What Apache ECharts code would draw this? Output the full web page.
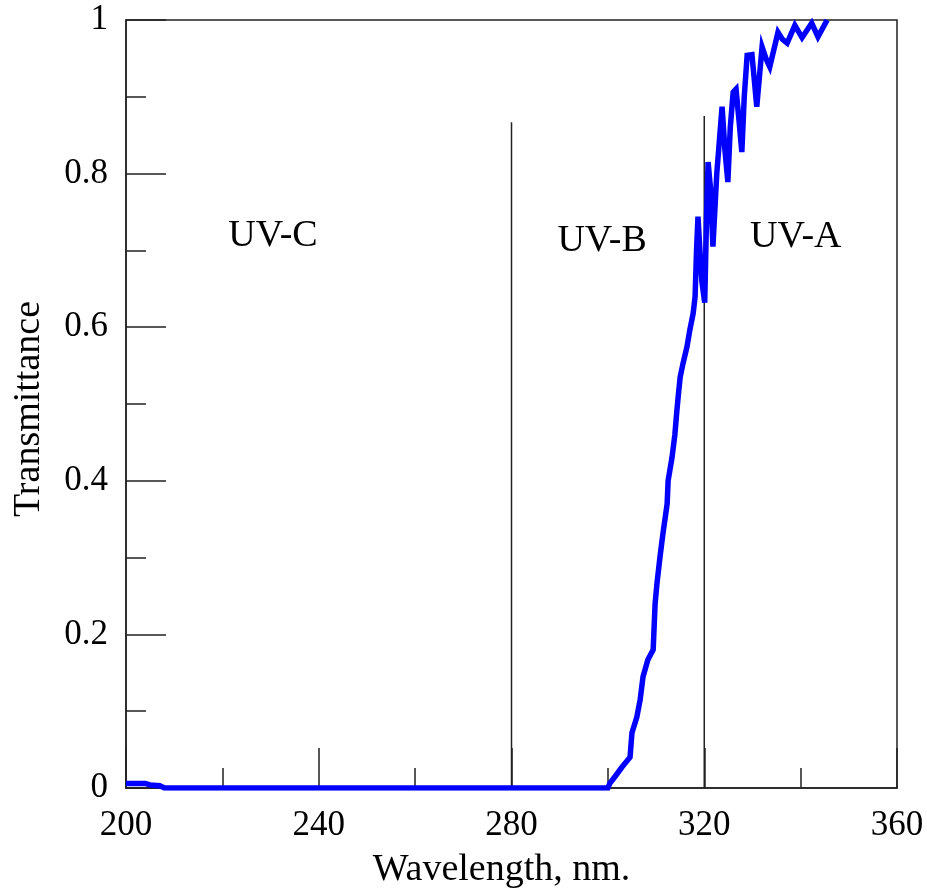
<!DOCTYPE html>
<html>
<head>
<meta charset="utf-8">
<title>Transmittance</title>
<script src="https://cdn.jsdelivr.net/npm/echarts@6/dist/echarts.min.js"></script>
<style>
	html, body { margin: 0; padding: 0; background: #fff; }
	#main { width: 927px; height: 888px; }
</style>
</head>
<body>
<div id="main"></div>
<script>
	// transmittance curve
	var wavelength = [200, 204, 205, 207, 208, 300, 300.4, 301.5, 302.9, 304.6, 305, 306, 306.7, 307.3, 308.3, 309.4, 309.8, 310.2,
		310.8, 311.4, 312.3, 312.5, 313.3, 313.9, 314.3, 314.6, 315, 315.6, 316.4, 317, 317.7, 318.1, 318.4, 318.7,
		319.1, 319.5, 320.1, 320.5, 320.8, 321.3, 321.8, 322.6, 323.7, 324.3, 324.9, 325.4, 326, 326.6, 327.2, 327.8,
		328.3, 328.9, 329.9, 330.9, 332, 332.8, 333.6, 335.3, 336.2, 337.2, 338.8, 340.3, 342.3, 343.6, 345.5];
	var transmittance = [0.006, 0.006, 0.004, 0.003, 0, 0, 0.006, 0.015, 0.027, 0.04, 0.072, 0.092, 0.115, 0.145, 0.167, 0.18, 0.24, 0.267,
		0.30, 0.33, 0.37, 0.40, 0.43, 0.46, 0.49, 0.51, 0.535, 0.553, 0.574, 0.596, 0.618, 0.64, 0.70, 0.744,
		0.70, 0.66, 0.632, 0.75, 0.815, 0.78, 0.705, 0.80, 0.887, 0.83, 0.789, 0.86, 0.906, 0.91, 0.87, 0.828,
		0.90, 0.954, 0.955, 0.887, 0.965, 0.95, 0.939, 0.984, 0.975, 0.97, 0.993, 0.977, 0.996, 0.978, 1.0];

	// band boundaries
	var boundaryX = [280, 320];
	var boundaryTop = [0.867, 0.875];

	// band names and where they sit (data units)
	var bandNames = ['UV-C', 'UV-B', 'UV-A'];
	var bandX = [230.5, 298.8, 339];
	var bandY = [0.719, 0.712, 0.717];

	var xTicks = [200, 360, 40];
	var yTicks = [0, 1, 0.2];

	var font = '"Liberation Serif", "Times New Roman", serif';
	var ink = '#222';

	var myChart = echarts.init(document.getElementById('main'));

	var curve = [];
	for (var i = 0; i < wavelength.length; i++) {
		curve.push([wavelength[i], transmittance[i]]);
	}

	var series = [];
	for (var j = 0; j < boundaryX.length; j++) {
		series.push({
			type: 'line',
			silent: true,
			symbol: 'none',
			lineStyle: { color: ink, width: 1.5 },
			data: [[boundaryX[j], 0], [boundaryX[j], boundaryTop[j]]],
			z: 1
		});
	}
	series.push({
		name: 'Transmittance',
		type: 'line',
		symbol: 'none',
		lineStyle: { color: '#0000ff', width: 5.5, join: 'miter' },
		data: curve,
		z: 3
	});
	var bands = [];
	for (var k = 0; k < bandNames.length; k++) {
		bands.push({ value: [bandX[k], bandY[k]], name: bandNames[k] });
	}
	series.push({
		type: 'scatter',
		symbolSize: 0,
		silent: true,
		itemStyle: { color: 'transparent', opacity: 1 },
		data: bands,
		label: {
			show: true,
			position: 'inside',
			formatter: '{b}',
			color: '#000',
			opacity: 1,
			textBorderWidth: 0,
			fontFamily: font,
			fontSize: 38
		}
	});

	var option = {
		animation: false,
		grid: {
			left: 126,
			right: 30,
			top: 20,
			bottom: 100,
			containLabel: false,
			outerBoundsMode: 'none',
			show: true,
			borderColor: ink,
			borderWidth: 1.5,
			backgroundColor: 'transparent'
		},
		xAxis: {
			type: 'value',
			min: xTicks[0],
			max: xTicks[1],
			interval: xTicks[2],
			name: 'Wavelength, nm.',
			nameLocation: 'middle',
			nameGap: 63,
			nameTextStyle: { color: '#000', fontFamily: font, fontSize: 38, padding: [0, 20, 0, 0] },
			axisLine: { lineStyle: { color: ink, width: 1.5 } },
			axisTick: { inside: true, length: 40, lineStyle: { color: ink, width: 1.5 } },
			minorTick: { show: true, splitNumber: 2, length: 20, lineStyle: { color: ink, width: 1.5 } },
			axisLabel: { color: '#000', fontFamily: font, fontSize: 35, margin: 20 },
			splitLine: { show: false }
		},
		yAxis: {
			type: 'value',
			min: yTicks[0],
			max: yTicks[1],
			interval: yTicks[2],
			name: 'Transmittance',
			nameLocation: 'middle',
			nameGap: 78,
			nameTextStyle: { color: '#000', fontFamily: font, fontSize: 38, padding: [0, 10, 0, 0] },
			axisLine: { lineStyle: { color: ink, width: 1.5 } },
			axisTick: { inside: true, length: 40, lineStyle: { color: ink, width: 1.5 } },
			minorTick: { show: true, splitNumber: 2, length: 20, lineStyle: { color: ink, width: 1.5 } },
			axisLabel: { color: '#000', fontFamily: font, fontSize: 35, margin: 18 },
			splitLine: { show: false }
		},
		series: series
	};

	myChart.setOption(option);
	window.addEventListener('resize', function () {
		myChart.resize();
	});
</script>
</body>
</html>
